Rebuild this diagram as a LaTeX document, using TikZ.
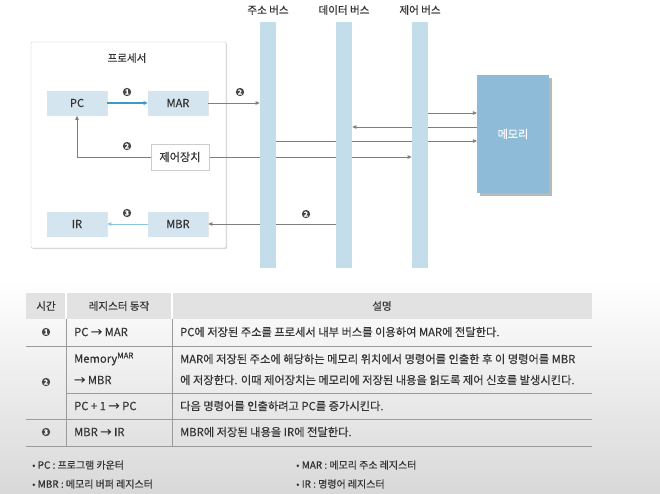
\documentclass[tikz,border=0pt]{standalone}
\usepackage{fontspec}
\setmainfont{Noto Sans CJK KR}[FakeBold=0.35]
\usetikzlibrary{arrows.meta,shadows,positioning}
\definecolor{regblue}{HTML}{D5E5EF}
\definecolor{busblue}{HTML}{C3DDEB}
\definecolor{memblue}{HTML}{8EBCD8}
\definecolor{arrgray}{HTML}{7F7F7F}
\definecolor{pcblue}{HTML}{3A9AD0}
\definecolor{irblue}{HTML}{8CC4E4}
\definecolor{headgray}{HTML}{E2E2E2}
\definecolor{linegray}{HTML}{9A9A9A}
\definecolor{txtgray}{HTML}{333333}
\pgfdeclarelayer{bg}
\pgfsetlayers{bg,main}
\begin{document}
\begin{tikzpicture}[x=0.03cm,y=-0.03cm,
	reg/.style={fill=regblue,minimum width=1.8cm,minimum height=0.75cm,text=txtgray,font=\fontsize{9.5}{11}\selectfont,drop shadow={opacity=0.2,shadow xshift=0.7pt,shadow yshift=-0.7pt}},
	bus/.style={fill=busblue,minimum width=0.48cm,minimum height=7.38cm,inner sep=0pt},
	buslbl/.style={text=txtgray,font=\fontsize{9}{11}\selectfont},
	arr/.style={draw=arrgray,line width=0.7pt,-{Triangle[length=3.5pt,width=3pt]}},
	num/.style={circle,fill=black!72,text=white,inner sep=0pt,minimum size=0.25cm,font=\fontsize{6}{6}\selectfont\bfseries},
	cell/.style={anchor=west,text=txtgray,font=\fontsize{9.6}{11}\selectfont},
	legend/.style={anchor=west,text=txtgray,font=\fontsize{8.5}{10}\selectfont}]
	\useasboundingbox (0,0) rectangle (660,493);
	\begin{pgfonlayer}{bg}
		\fill[top color=white,bottom color=black!15] (0,280) rectangle (660,493);
		\node[draw=black!25,fill=white,rounded corners=1pt,minimum width=5.85cm,minimum height=6.18cm,drop shadow={opacity=0.3,shadow xshift=1pt,shadow yshift=-1pt}] (proc) at (128.5,145) {};
	\end{pgfonlayer}
	\node[buslbl] at (127,58) {프로세서};
	% registers
	\node[reg] (PC) at (77,103) {PC};
	\node[reg] (MAR) at (178,103) {MAR};
	\node[reg,fill=white,draw=black!20,minimum width=1.75cm,minimum height=0.78cm] (ctrl) at (180,157) {제어장치};
	\node[reg] (IR) at (77,224) {IR};
	\node[reg] (MBR) at (178,224) {MBR};
	% buses
	\node[bus] (abus) at (268,145) {};
	\node[bus] (dbus) at (344,145) {};
	\node[bus] (cbus) at (420,145) {};
	\node[buslbl] at (268,10) {주소 버스};
	\node[buslbl] at (344,10) {데이터 버스};
	\node[buslbl] at (420,10) {제어 버스};
	\node[fill=memblue,minimum width=2.16cm,minimum height=3.54cm,text=white,font=\fontsize{9.5}{11}\selectfont,drop shadow={opacity=0.55,shadow xshift=2.5pt,shadow yshift=-2.5pt}] (mem) at (513,134) {메모리};
	\coordinate (m1) at (477,113);
	\coordinate (m2) at (477,127);
	\coordinate (m3) at (477,141);
	\begin{pgfonlayer}{bg}
		\draw[arr,draw=pcblue,line width=0.9pt] (PC) -- (MAR);
		\draw[arr] (MAR) -- (MAR -| abus.west);
		\draw[arr] (ctrl.west) -| (PC.south);
		\draw[arr] (ctrl) -- (ctrl -| cbus.west);
		\draw[arr] (m1 -| cbus.east) -- (m1);
		\draw[arr] (m2) -- (m2 -| dbus.east);
		\draw[arr] (m3 -| abus.east) -- (m3);
		\draw[arr] (MBR -| dbus.west) -- (MBR);
		\draw[arr,draw=irblue] (MBR) -- (IR);
	\end{pgfonlayer}
	\node[num] at (127,92) {1};
	\node[num] at (240,92) {2};
	\node[num] at (127,146) {2};
	\node[num] at (306,214) {2};
	\node[num] at (127,213) {3};
	% table
	\fill[headgray] (26,293) rectangle (592,319);
	\draw[white,line width=1pt] (66,293) -- (66,319) (172,293) -- (172,319);
	\draw[linegray,line width=0.5pt] (66,319) -- (66,446) (172,319) -- (172,446);
	\draw[linegray,line width=0.6pt] (26,346) -- (592,346) (66,393) -- (592,393) (26,419) -- (592,419) (26,446) -- (592,446);
	\node[buslbl] at (46,306) {시간};
	\node[buslbl] at (119,306) {레지스터 동작};
	\node[buslbl] at (382,306) {설명};
	\node[num] at (46,332) {1};
	\node[num] at (46,382) {2};
	\node[num] at (46,432) {3};
	\node[cell] at (70,332) {PC → MAR};
	\node[cell] at (176,332) {PC에 저장된 주소를 프로세서 내부 버스를 이용하여 MAR에 전달한다.};
	\node[cell] at (70,359) {Memory\textsuperscript{MAR}};
	\node[cell] at (70,380) {→ MBR};
	\node[cell] at (176,359) {MAR에 저장된 주소에 해당하는 메모리 위치에서 명령어를 인출한 후 이 명령어를 MBR};
	\node[cell] at (176,380) {에 저장한다. 이때 제어장치는 메모리에 저장된 내용을 읽도록 제어 신호를 발생시킨다.};
	\node[cell] at (70,406) {PC + 1 → PC};
	\node[cell] at (176,406) {다음 명령어를 인출하려고 PC를 증가시킨다.};
	\node[cell] at (70,432) {MBR → IR};
	\node[cell] at (176,432) {MBR에 저장된 내용을 IR에 전달한다.};
	% legend
	\node[legend] at (28,465) {• PC : 프로그램 카운터};
	\node[legend] at (28,484) {• MBR : 메모리 버퍼 레지스터};
	\node[legend] at (292,465) {• MAR : 메모리 주소 레지스터};
	\node[legend] at (292,484) {• IR : 명령어 레지스터};
\end{tikzpicture}
\end{document}
